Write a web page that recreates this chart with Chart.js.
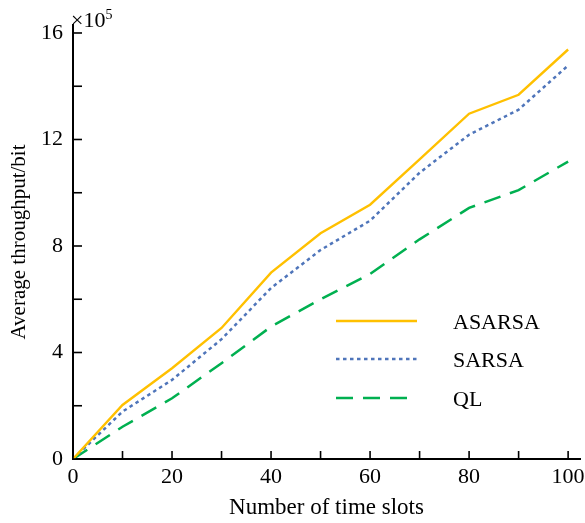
<!DOCTYPE html>
<html><head><meta charset="utf-8">
<script src="https://cdn.jsdelivr.net/npm/chart.js@4"></script>
<style>html,body{margin:0;padding:0;background:#fff}#wrap{width:585px;height:523px}</style>
</head><body><div id="wrap"><canvas id="c" width="585" height="523"></canvas></div>
<script>
const timeSlots = [0, 10, 20, 30, 40, 50, 60, 70, 80, 90, 100];
const asarsa = [0, 2.03, 3.41, 4.92, 7.0, 8.48, 9.55, 11.25, 12.97, 13.68, 15.38];
const sarsa  = [0, 1.78, 2.97, 4.5, 6.42, 7.85, 8.95, 10.75, 12.18, 13.12, 14.78];
const ql     = [0, 1.21, 2.28, 3.6, 4.97, 6.0, 6.95, 8.25, 9.43, 10.1, 11.17];
const xTicks = [0, 10, 20, 30, 40, 50, 60, 70, 80, 90, 100];
const yTicks = [0, 2, 4, 6, 8, 10, 12, 14, 16];
const seriesNames = ['ASARSA', 'SARSA', 'QL'];

const FONT = '"Liberation Serif", "Times New Roman", serif';
const pts = arr => timeSlots.map((x, i) => ({x, y: arr[i]}));

const inwardTicks = {
  id: 'inwardTicks',
  afterDraw(chart) {
    const ctx = chart.ctx, xs = chart.scales.x, ys = chart.scales.y;
    ctx.save();
    ctx.strokeStyle = '#000'; ctx.lineWidth = 1.6;
    xTicks.forEach(v => { const px = xs.getPixelForValue(v); ctx.beginPath(); ctx.moveTo(px, ys.bottom); ctx.lineTo(px, ys.bottom - 8); ctx.stroke(); });
    yTicks.forEach(v => { const py = ys.getPixelForValue(v); ctx.beginPath(); ctx.moveTo(xs.left, py); ctx.lineTo(xs.left + 9, py); ctx.stroke(); });
    // exponent label
    ctx.fillStyle = '#000'; ctx.textBaseline = 'alphabetic'; ctx.textAlign = 'left';
    ctx.font = '22px ' + FONT;
    ctx.fillText('\u00d710', 71, 27);
    const w = ctx.measureText('\u00d710').width;
    ctx.font = '14px ' + FONT;
    ctx.fillText('5', 71 + w, 19);
    // legend
    const rows = [321, 359, 398];
    chart.data.datasets.forEach((ds, i) => {
      ctx.save();
      ctx.strokeStyle = ds.borderColor; ctx.lineWidth = ds.borderWidth;
      ctx.setLineDash(ds.borderDash || []);
      ctx.beginPath(); ctx.moveTo(336, rows[i]); ctx.lineTo(417, rows[i]); ctx.stroke();
      ctx.restore();
      ctx.fillStyle = '#000'; ctx.font = '22px ' + FONT; ctx.textBaseline = 'alphabetic';
      ctx.fillText(ds.label, 453, rows[i] + 8);
    });
    ctx.restore();
  }
};

new Chart(document.getElementById('c'), {
  type: 'line',
  data: { datasets: [
    { label: seriesNames[0], data: pts(asarsa), borderColor: '#FFC000', borderWidth: 2.4, pointRadius: 0, tension: 0 },
    { label: seriesNames[1], data: pts(sarsa), borderColor: '#4F75BA', borderWidth: 2.5, borderDash: [3.5, 3.5], pointRadius: 0, tension: 0 },
    { label: seriesNames[2], data: pts(ql), borderColor: '#00B050', borderWidth: 2.5, borderDash: [17, 10], pointRadius: 0, tension: 0 }
  ]},
  options: {
    responsive: false, animation: false,
    layout: { autoPadding: false, padding: { left: 0, right: 5, top: 25, bottom: 0 } },
    plugins: { legend: { display: false }, tooltip: { enabled: false } },
    scales: {
      x: {
        type: 'linear', min: 0, max: 102.4,
        afterBuildTicks: s => { s.ticks = xTicks.map(v => ({value: v})); },
        afterFit: s => { s.height = 64; s.paddingLeft = 0; s.paddingRight = 0; },
        grid: { display: true, drawOnChartArea: false, drawTicks: false },
        border: { color: '#000', width: 2 },
        ticks: { color: '#000', font: { family: FONT, size: 22 }, padding: 5, maxRotation: 0, autoSkip: false,
                 callback: v => (v % 20 === 0 ? String(v) : '') },
        title: { display: true, text: 'Number of time slots', color: '#000', font: { family: FONT, size: 23 }, padding: { top: 0, bottom: 1 } }
      },
      y: {
        type: 'linear', min: 0, max: 16.3,
        afterBuildTicks: s => { s.ticks = yTicks.map(v => ({value: v})); },
        afterFit: s => { s.width = 73; s.paddingTop = 0; s.paddingBottom = 0; },
        grid: { display: true, drawOnChartArea: false, drawTicks: false },
        border: { color: '#000', width: 2 },
        ticks: { color: '#000', font: { family: FONT, size: 22 }, padding: 10, autoSkip: false,
                 callback: v => (v % 4 === 0 ? String(v) : '') },
        title: { display: true, text: 'Average throughput/bit', color: '#000', font: { family: FONT, size: 21 }, padding: { top: 7, bottom: 0 } }
      }
    }
  },
  plugins: [inwardTicks]
});
</script></body></html>
